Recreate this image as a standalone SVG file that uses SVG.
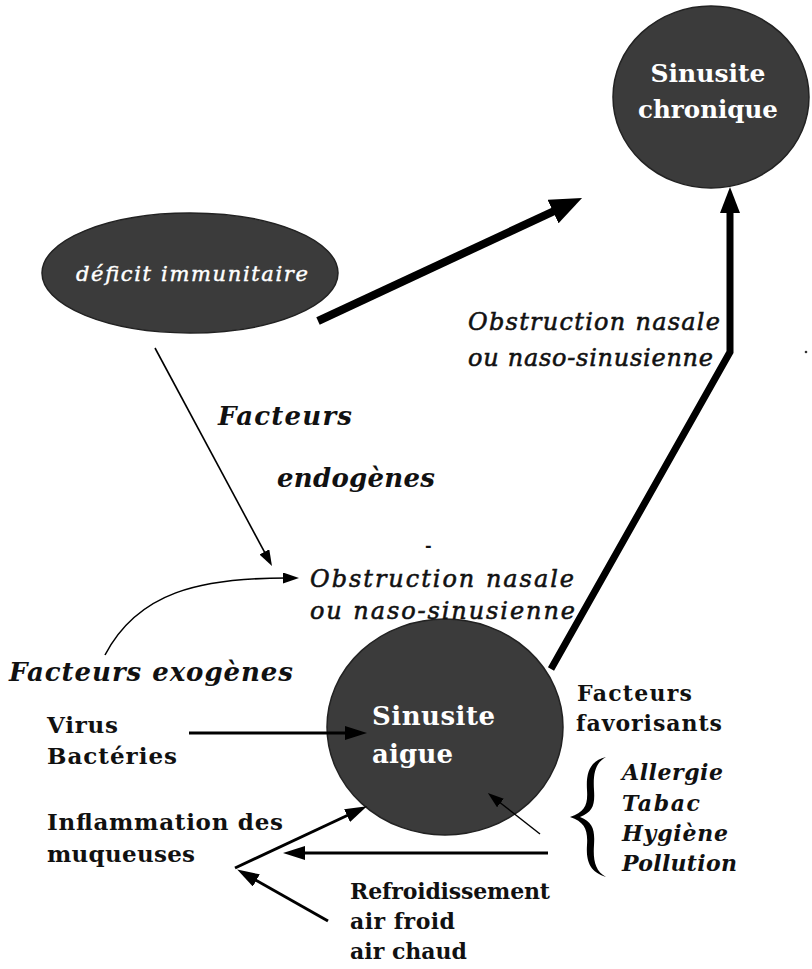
<svg xmlns="http://www.w3.org/2000/svg" width="812" height="969" viewBox="0 0 812 969">
<style>
.node{fill:#3b3b3b;stroke:#222;stroke-width:1.5}
.wb{fill:#fff;font-family:"DejaVu Serif","Liberation Serif",serif;font-weight:bold}
.wi{fill:#fff;stroke:#fff;stroke-width:0.45;font-family:"DejaVu Serif","Liberation Serif",serif;font-style:italic}
.bi{fill:#111;font-family:"DejaVu Serif","Liberation Serif",serif;font-weight:bold;font-style:italic}
.it{fill:#111;stroke:#111;stroke-width:0.55;font-family:"DejaVu Serif","Liberation Serif",serif;font-style:italic}
.b{fill:#111;font-family:"DejaVu Serif","Liberation Serif",serif;font-weight:bold}
.c{fill:none;stroke:#000;stroke-linecap:butt;stroke-linejoin:miter}
</style>
<defs>
<marker id="hBig" markerUnits="userSpaceOnUse" markerWidth="32" markerHeight="26" viewBox="0 0 32 26" refX="10" refY="13" orient="auto"><path d="M0,0 L32,13 L0,26 z" fill="#000"/></marker>
<marker id="hBig2" markerUnits="userSpaceOnUse" markerWidth="26" markerHeight="20" viewBox="0 0 26 20" refX="8" refY="10" orient="auto"><path d="M0,0 L26,10 L0,20 z" fill="#000"/></marker>
<marker id="hMed" markerUnits="userSpaceOnUse" markerWidth="22" markerHeight="14" viewBox="0 0 22 14" refX="6" refY="7" orient="auto"><path d="M0,0 L22,7 L0,14 z" fill="#000"/></marker>
<marker id="hThin" markerUnits="userSpaceOnUse" markerWidth="16" markerHeight="11" viewBox="0 0 16 11" refX="4" refY="5.5" orient="auto"><path d="M0,0 L16,5.5 L0,11 z" fill="#000"/></marker>
</defs>
<rect width="812" height="969" fill="#fff"/>

<g id="chronique">
<ellipse class="node" cx="711" cy="97" rx="98" ry="91"/>
<text class="wb" x="708" y="82" font-size="25" text-anchor="middle">Sinusite</text>
<text class="wb" x="708" y="118" font-size="25" text-anchor="middle" textLength="140" lengthAdjust="spacingAndGlyphs">chronique</text>
</g>

<g id="deficit">
<ellipse class="node" cx="190" cy="273" rx="148" ry="60"/>
<text class="wi" x="76" y="281" font-size="21" textLength="232" lengthAdjust="spacing">déficit immunitaire</text>
</g>

<g id="aigue">
<ellipse class="node" cx="445" cy="727" rx="118" ry="108"/>
<text class="wb" x="372" y="725" font-size="26" textLength="123" lengthAdjust="spacing">Sinusite</text>
<text class="wb" x="372" y="763" font-size="26" textLength="81" lengthAdjust="spacing">aigue</text>
</g>

<g id="obstruction-haut">
<text class="it" x="468" y="330" font-size="24" textLength="252" lengthAdjust="spacing">Obstruction nasale</text>
<text class="it" x="468" y="366" font-size="24" textLength="245" lengthAdjust="spacing">ou naso-sinusienne</text>
</g>

<g id="obstruction-bas">
<text class="it" x="310" y="587" font-size="24" textLength="264" lengthAdjust="spacing">Obstruction nasale</text>
<text class="it" x="310" y="619" font-size="24" textLength="265" lengthAdjust="spacing">ou naso-sinusienne</text>
</g>

<g id="endogenes">
<text class="bi" x="218" y="425" font-size="26" textLength="134" lengthAdjust="spacing">Facteurs</text>
<text class="bi" x="277" y="487" font-size="26" textLength="158" lengthAdjust="spacing">endogènes</text>
</g>

<g id="exogenes">
<text class="bi" x="9" y="681" font-size="26" textLength="284" lengthAdjust="spacing">Facteurs exogènes</text>
</g>

<g id="virus">
<text class="b" x="47" y="733" font-size="23" textLength="71" lengthAdjust="spacing">Virus</text>
<text class="b" x="47" y="764" font-size="23" textLength="130" lengthAdjust="spacing">Bactéries</text>
</g>

<g id="inflammation">
<text class="b" x="47" y="830" font-size="23" textLength="236" lengthAdjust="spacing">Inflammation des</text>
<text class="b" x="47" y="862" font-size="23" textLength="148" lengthAdjust="spacing">muqueuses</text>
</g>

<g id="refroidissement">
<text class="b" x="350" y="899" font-size="22" textLength="200" lengthAdjust="spacing">Refroidissement</text>
<text class="b" x="350" y="929" font-size="22" textLength="105" lengthAdjust="spacing">air froid</text>
<text class="b" x="350" y="959" font-size="22" textLength="117" lengthAdjust="spacing">air chaud</text>
</g>

<g id="favorisants">
<text class="b" x="577" y="701" font-size="22" textLength="115" lengthAdjust="spacing">Facteurs</text>
<text class="b" x="576" y="731" font-size="22" textLength="146" lengthAdjust="spacing">favorisants</text>
<path d="M606,757 C589,761 586,774 587,790 C588,805 585,812 570,817 C585,822 588,830 587,845 C586,860 589,872 606,877 C595,871 593,860 594,845 C595,830 593,822 580,817 C593,812 595,805 594,790 C593,774 595,763 606,757 Z" fill="#000"/>
<text class="bi" x="622" y="780" font-size="22" textLength="101" lengthAdjust="spacing">Allergie</text>
<text class="bi" x="622" y="811" font-size="22" textLength="78" lengthAdjust="spacing">Tabac</text>
<text class="bi" x="622" y="841" font-size="22" textLength="106" lengthAdjust="spacing">Hygiène</text>
<text class="bi" x="622" y="871" font-size="22" textLength="115" lengthAdjust="spacing">Pollution</text>
</g>

<g id="marks">
<text class="b" x="425" y="551" font-size="16">-</text>
<circle cx="806" cy="352" r="1.3" fill="#333"/>
</g>

<g id="connectors">
<path class="c" d="M318,321 L562.1,207.3" stroke-width="8" marker-end="url(#hBig)"/>
<path class="c" d="M551,669 L730,352 L730,205" stroke-width="7" marker-end="url(#hBig2)"/>
<path class="c" d="M155,348 L266.3,555.4" stroke-width="1.6" marker-end="url(#hThin)"/>
<path class="c" d="M105,655 C138,592 200,578 287,578" stroke-width="1.6" marker-end="url(#hThin)"/>
<path class="c" d="M189,733 L351,733" stroke-width="3" marker-end="url(#hMed)"/>
<path class="c" d="M235,868 L352.5,813" stroke-width="3" marker-end="url(#hMed)"/>
<path class="c" d="M548,853 L299,853" stroke-width="3" marker-end="url(#hMed)"/>
<path class="c" d="M328,921 L251.1,877.5" stroke-width="3" marker-end="url(#hMed)"/>
<path class="c" d="M540,834 L497.3,800.5" stroke-width="1.4" marker-end="url(#hThin)"/>
</g>
</svg>
